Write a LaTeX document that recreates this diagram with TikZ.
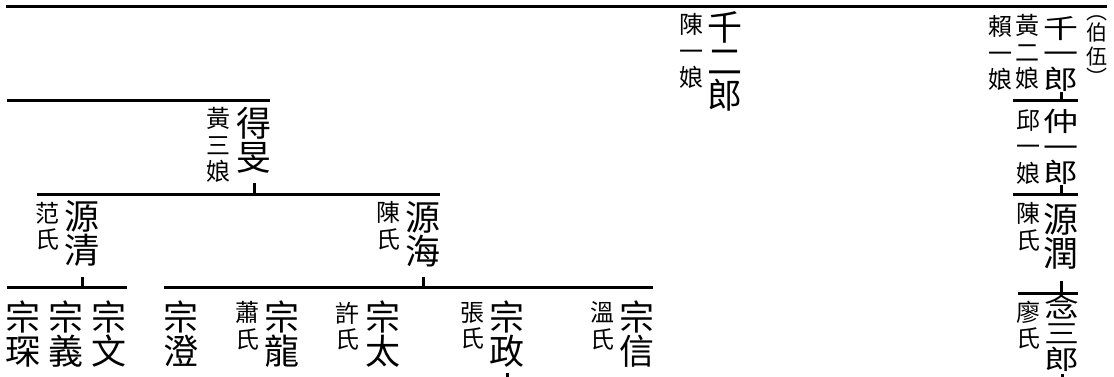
\documentclass[tikz,border=0pt]{standalone}
\usepackage{fontspec}
\newfontfamily\cjk{Noto Sans CJK TC}
\usepackage{graphicx}
\usepackage{tikz}
\newcommand{\squash}[1]{\scalebox{1}[.76]{\parbox{1em}{\centering #1}}}

\begin{document}
\begin{tikzpicture}[
    x=1pt, y=1pt,
    gen/.style={line width=3pt},
    heir/.style={inner sep=0pt, align=center, font={\cjk\fontsize{35}{34}\selectfont\lineskiplimit=-20pt}},
    wife/.style={inner sep=0pt, align=center, font={\cjk\fontsize{24}{26.5}\selectfont\lineskiplimit=-20pt}},
    note/.style={inner sep=0pt, align=center, font={\cjk\fontsize{21}{24}\selectfont\lineskiplimit=-20pt}},
]
\useasboundingbox (0,0) rectangle (1114,-376);

% bars
\coordinate (topw) at (6,-6);      \coordinate (tope) at (1107,-6);
\coordinate (upw) at (7,-100);     \coordinate (upe) at (270,-100);
\coordinate (midw) at (37,-194);   \coordinate (mide) at (440,-194);
\coordinate (qingw) at (7,-287);   \coordinate (qinge) at (127,-287);
\coordinate (haiw) at (164,-287);  \coordinate (haie) at (653,-287);
\coordinate (ra) at (1013,-100);   \coordinate (rae) at (1078,-100);
\coordinate (rb) at (1013,-194);   \coordinate (rbe) at (1078,-194);
\coordinate (rc) at (1018,-293);   \coordinate (rce) at (1078,-293);
\draw[gen] (topw) -- (tope);
\draw[gen] (upw) -- (upe);
\draw[gen] (midw) -- (mide);
\draw[gen] (qingw) -- (qinge);
\draw[gen] (haiw) -- (haie);
\draw[gen] (ra) -- (rae);
\draw[gen] (rb) -- (rbe);
\draw[gen] (rc) -- (rce);

% first row
\node[heir] (qianer) at (725,-61) {千\\二\\郎};
\node[wife] (chenyi) at (691,-51) {陳\\一\\娘};
\node[heir] (qianyi) at (1061,-54) {\squash{千\\一\\郎}};
\node[wife] (huanger) at (1027,-52) {黃\\二\\娘};
\node[wife] (laiyi) at (1000,-53) {賴\\一\\娘};
\node[note] (bowu) at (1097,-51) {︵\\[-3pt]伯\\伍\\[-3pt]︶};

% left branch
\node[heir] (demin) at (254,-140) {得\\旻};
\node[wife] (huangsan) at (218,-145) {黃\\三\\娘};
\node[heir] (yuanqing) at (82,-234) {源\\清};
\node[wife] (fanshi) at (47,-226) {范\\氏};
\node[heir] (yuanhai) at (423,-234) {源\\海};
\node[wife] (chenshi) at (388,-226) {陳\\氏};

\node[heir] (zongchen) at (23,-334) {宗\\琛};
\node[heir] (zongyi) at (66,-334) {宗\\義};
\node[heir] (zongwen) at (109,-334) {宗\\文};
\node[heir] (zongcheng) at (181,-334) {宗\\澄};
\node[wife] (xiaoshi) at (247,-326) {蕭\\氏};
\node[heir] (zonglong) at (282,-334) {宗\\龍};
\node[wife] (xushi) at (347,-326) {許\\氏};
\node[heir] (zongtai) at (383,-334) {宗\\太};
\node[wife] (zhangshi) at (472,-326) {張\\氏};
\node[heir] (zongzheng) at (507,-334) {宗\\政};
\node[wife] (wenshi) at (602,-326) {溫\\氏};
\node[heir] (zongxin) at (637,-334) {宗\\信};

% right column
\node[heir] (zhongyi) at (1061,-147) {\squash{仲\\一\\郎}};
\node[wife] (qiuyi) at (1028,-147) {邱\\一\\娘};
\node[heir] (yuanrun) at (1061,-236) {源\\潤};
\node[wife] (chenshib) at (1028,-227) {陳\\氏};
\node[heir] (niansan) at (1062,-333) {\squash{念\\三\\郎}};
\node[wife] (liaoshi) at (1028,-325) {廖\\氏};

% descent ticks
\draw[gen] ([yshift=-10pt]demin.south) -- (demin.south |- midw);
\draw[gen] ([yshift=-10pt]yuanqing.south) -- (yuanqing.south |- qingw);
\draw[gen] ([yshift=-10pt]yuanhai.south) -- (yuanhai.south |- haiw);
\draw[gen] (qianyi.south) -- (qianyi.south |- ra);
\draw[gen] (zhongyi.south) -- (zhongyi.south |- rb);
\draw[gen] ([yshift=-12pt]yuanrun.south) -- (yuanrun.south |- rc);
\draw[gen] ([yshift=-6pt]zongzheng.south) -- ++(0,-10);
\draw[gen] ([yshift=-3pt]niansan.south) -- ++(0,-10);
\end{tikzpicture}
\end{document}
